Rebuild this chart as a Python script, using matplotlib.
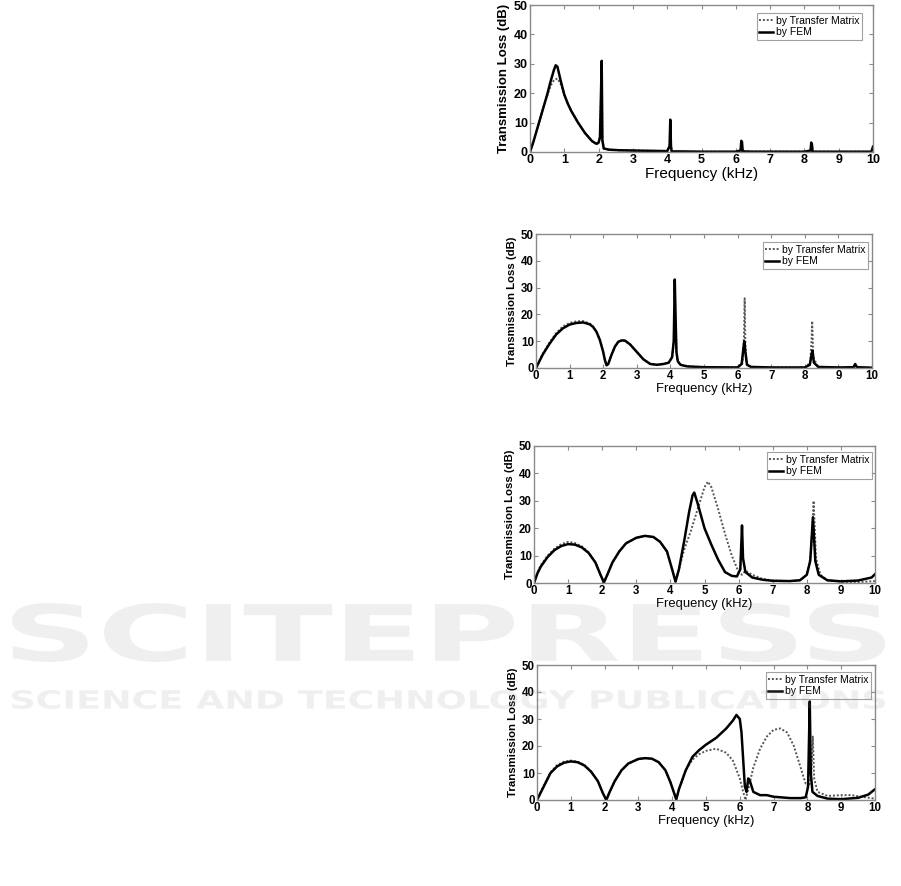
import numpy as np
import matplotlib
matplotlib.use("Agg")
import matplotlib.pyplot as plt
from matplotlib.textpath import TextPath
from matplotlib.font_manager import FontProperties
from matplotlib.patches import PathPatch
from matplotlib.transforms import Affine2D

plt.rcParams['font.family'] = ['Liberation Sans', 'DejaVu Sans']

# PANEL 1 DATA

f1_fem = [0, 0.1, 0.2, 0.3, 0.4, 0.5, 0.6, 0.7, 0.75, 0.8, 0.85, 0.9, 1.0, 1.1, 1.2, 1.4, 1.6, 1.8, 1.9, 1.95,
          2.0, 2.04, 2.07, 2.09, 2.11, 2.15, 2.3, 2.6, 3.0, 3.5, 4.0, 4.07, 4.09, 4.11, 4.13, 4.3, 5.0, 6.0,
          6.14, 6.16, 6.18, 6.2, 6.5, 7.0, 8.0, 8.18, 8.2, 8.22, 8.24, 9.0, 9.95, 9.98, 10.0]
tl1_fem = [0, 3.5, 7.5, 11.5, 15.5, 19.5, 24, 28, 29.5, 29, 26.5, 24, 19.5, 16.5, 14, 10, 6.5, 3.8, 3.0, 2.8,
           3.2, 5, 20, 31, 4, 1.2, 0.8, 0.6, 0.5, 0.4, 0.3, 2, 11, 2, 0.2, 0.2, 0.1, 0.1,
           0.5, 3.8, 3.5, 0.2, 0.1, 0.1, 0.1, 0.5, 3.2, 2.5, 0.1, 0.1, 0.1, 1.0, 1.8]
f1_tm = [0, 0.1, 0.2, 0.3, 0.4, 0.5, 0.6, 0.7, 0.8, 0.9, 1.0, 1.1, 1.2, 1.4, 1.6, 1.8, 1.9, 1.95,
         2.0, 2.04, 2.07, 2.09, 2.11, 2.15, 2.3, 2.6, 3.0, 4.0, 4.07, 4.09, 4.11, 4.13, 5.0, 6.0,
         6.14, 6.16, 6.18, 6.2, 8.0, 8.18, 8.2, 8.22, 8.24, 9.95, 10.0]
tl1_tm = [0, 3.5, 7.5, 11.5, 15.5, 19, 22.5, 24.5, 25, 23, 19.5, 16.5, 14, 10, 6.5, 3.8, 3.0, 2.8,
          3.2, 5, 18, 30, 4, 1.2, 0.8, 0.6, 0.5, 0.3, 2, 10.5, 2, 0.2, 0.1, 0.1,
          0.5, 3.5, 3.2, 0.2, 0.1, 0.5, 3.0, 2.3, 0.1, 0.1, 1.5]

# PANEL 2 DATA

f2_fem = [0, 0.1, 0.2, 0.4, 0.6, 0.8, 1.0, 1.2, 1.4, 1.6, 1.7, 1.8, 1.9, 2.0, 2.05, 2.1, 2.15, 2.25, 2.35, 2.45,
          2.55, 2.65, 2.8, 3.0, 3.2, 3.4, 3.6, 3.8, 3.95, 4.05, 4.1, 4.13, 4.15, 4.18, 4.22, 4.3, 4.5, 5.0, 6.0,
          6.12, 6.17, 6.2, 6.23, 6.28, 6.4, 7.0, 8.0, 8.15, 8.2, 8.23, 8.27, 8.4, 9.0, 9.45, 9.5, 9.55, 10.0]
tl2_fem = [0, 2.5, 5, 9, 12.5, 14.8, 16.2, 16.8, 17, 16.3, 15.3, 13.5, 10.5, 6, 3, 1, 1.5, 5, 8, 9.8,
           10.3, 10.2, 8.8, 6, 3.2, 1.5, 1.2, 1.5, 2, 4, 10, 33, 21, 6, 2.5, 1.2, 0.6, 0.3, 0.2,
           1.5, 7, 10, 6, 1.2, 0.4, 0.2, 0.2, 1.2, 5, 6.5, 2, 0.4, 0.2, 0.3, 1.5, 0.3, 0.1]
f2_tm = [0, 0.1, 0.2, 0.4, 0.6, 0.8, 1.0, 1.2, 1.4, 1.6, 1.7, 1.8, 1.9, 2.0, 2.05, 2.1, 2.15, 2.25, 2.35, 2.45,
         2.55, 2.65, 2.8, 3.0, 3.2, 3.4, 3.6, 3.8, 3.95, 4.05, 4.1, 4.13, 4.15, 4.18, 4.22, 4.3, 4.5, 5.0, 6.0,
         6.15, 6.19, 6.21, 6.23, 6.27, 6.4, 7.0, 8.0, 8.16, 8.2, 8.22, 8.25, 8.4, 9.0, 9.45, 9.5, 9.55, 10.0]
tl2_tm = [0, 2.7, 5.3, 9.5, 13, 15.5, 16.8, 17.4, 17.5, 16.6, 15.5, 13.5, 10.5, 6, 3, 1, 1.5, 5, 8, 9.8,
          10.3, 10.2, 8.8, 6, 3.2, 1.5, 1.2, 1.5, 2, 4, 10, 30, 20, 6, 2.5, 1.2, 0.6, 0.3, 0.2,
          2, 12, 26, 10, 1.5, 0.4, 0.2, 0.2, 2, 10, 17.5, 4, 0.4, 0.2, 0.3, 1.2, 0.3, 0.1]

# PANEL 3 DATA

f3_fem = [0, 0.1, 0.2, 0.4, 0.6, 0.8, 1.0, 1.2, 1.4, 1.6, 1.8, 1.95, 2.05, 2.15, 2.3, 2.5, 2.7, 3.0, 3.25, 3.5,
          3.7, 3.9, 4.05, 4.15, 4.25, 4.4, 4.55, 4.65, 4.7, 4.8, 5.0, 5.2, 5.4, 5.6, 5.8, 5.95, 6.05, 6.1,
          6.13, 6.2, 6.4, 6.7, 7.0, 7.5, 7.8, 8.0, 8.1, 8.18, 8.25, 8.35, 8.6, 9.0, 9.5, 9.9, 10.0]
tl3_fem = [0, 3.5, 6, 9.5, 12, 13.5, 14.2, 14, 13, 11, 7.5, 3, 0.2, 3, 7.5, 11.5, 14.5, 16.5, 17.2, 16.8,
           15, 11.5, 5, 0.5, 5, 15, 26, 32, 33, 29, 20, 14, 8.5, 4, 2.6, 2.4, 5, 21,
           9, 4, 2, 1.2, 0.8, 0.7, 1, 3, 8, 24, 8, 3, 1, 0.6, 0.9, 2, 3.2]
f3_tm = [0, 0.1, 0.2, 0.4, 0.6, 0.8, 1.0, 1.2, 1.4, 1.6, 1.8, 1.95, 2.05, 2.15, 2.3, 2.5, 2.7, 3.0, 3.25, 3.5,
         3.7, 3.9, 4.05, 4.15, 4.25, 4.4, 4.6, 4.8, 5.0, 5.1, 5.2, 5.4, 5.6, 5.8, 6.0, 6.1, 6.2, 6.4,
         6.7, 7.0, 7.5, 7.8, 8.0, 8.12, 8.2, 8.27, 8.4, 8.6, 9.0, 9.5, 10.0]
tl3_tm = [0, 3.8, 6.5, 10, 12.5, 14.2, 15, 14.6, 13.4, 11.2, 7.6, 3, 0.2, 3, 7.5, 11.5, 14.5, 16.5, 17.2, 16.8,
          15, 11.5, 5, 0.5, 5, 12, 19, 27, 35, 37, 35, 27, 18, 10, 4, 3, 4.5, 3,
          1.5, 0.9, 0.7, 1, 3, 10, 30, 9, 3, 1, 0.5, 0.3, 0.7]

# PANEL 4 DATA

f4_fem = [0, 0.1, 0.2, 0.4, 0.6, 0.8, 1.0, 1.2, 1.4, 1.6, 1.8, 1.95, 2.05, 2.15, 2.3, 2.5, 2.7, 3.0, 3.2, 3.4,
          3.6, 3.8, 3.95, 4.12, 4.2, 4.4, 4.6, 4.8, 5.0, 5.3, 5.6, 5.8, 5.9, 6.0, 6.05, 6.1, 6.15, 6.2, 6.25,
          6.3, 6.4, 6.6, 6.8, 7.0, 7.5, 7.8, 7.95, 8.02, 8.07, 8.1, 8.15, 8.3, 8.6, 9.0, 9.5, 9.8, 10.0]
tl4_fem = [0, 2.5, 5, 10, 12.5, 13.8, 14.3, 14, 12.8, 10.5, 7, 2.5, 0, 3, 7, 11, 13.5, 15.2, 15.5, 15.3,
           14, 11, 6.5, 0.2, 4, 11, 16, 18.5, 20.5, 23, 26.5, 29.5, 31.5, 30, 25, 15, 5, 3, 8,
           7, 3, 1.8, 1.8, 1.2, 0.7, 0.7, 1, 5, 36.5, 10, 3, 1.5, 0.5, 0.3, 0.8, 2, 4]
f4_tm = [0, 0.1, 0.2, 0.4, 0.6, 0.8, 1.0, 1.2, 1.4, 1.6, 1.8, 1.95, 2.05, 2.15, 2.3, 2.5, 2.7, 3.0, 3.2, 3.4,
         3.6, 3.8, 3.95, 4.12, 4.2, 4.4, 4.6, 4.8, 5.0, 5.3, 5.6, 5.8, 6.0, 6.1, 6.17, 6.25, 6.4, 6.6, 6.8,
         7.0, 7.2, 7.4, 7.6, 7.8, 7.95, 8.05, 8.12, 8.16, 8.2, 8.3, 8.6, 9.0, 9.3, 9.6, 10.0]
tl4_tm = [0, 2.7, 5.3, 10.3, 13, 14.2, 14.6, 14.2, 13, 10.6, 7, 2.5, 0, 3, 7, 11, 13.5, 15.2, 15.5, 15.3,
          14, 11, 6.5, 0.2, 4, 11, 15, 17, 18.2, 19, 17.5, 14.5, 8, 3, 0, 4, 12, 19, 23.5,
          26, 26.5, 25, 20, 12, 6, 5, 10, 23.5, 8, 3, 1.5, 1.8, 1.8, 1.2, 0.5]

panels = [
    (f1_tm, tl1_tm, f1_fem, tl1_fem),
    (f2_tm, tl2_tm, f2_fem, tl2_fem),
    (f3_tm, tl3_tm, f3_fem, tl3_fem),
    (f4_tm, tl4_tm, f4_fem, tl4_fem),
]

# axes boxes in pixels: left, top, right, bottom
W, H = 901, 886
boxes = [(530, 5, 873, 152), (536, 234, 872, 368), (534, 446, 875, 583), (537, 665, 875, 800)]
legend_top = [13, 242, 452, 672]
legend_right = [862, 868, 872, 871]

fig = plt.figure(figsize=(W / 100, H / 100), dpi=100)

for i, (box, data) in enumerate(zip(boxes, panels)):
    l, t, r, b = box
    ax = fig.add_axes([l / W, 1 - b / H, (r - l) / W, (b - t) / H])
    f_tm, tl_tm, f_fem, tl_fem = data

    ax.plot(f_tm, tl_tm, linestyle=(0, (1, 1)), color='#555555', linewidth=1.4,
            label='by Transfer Matrix')
    ax.plot(f_fem, tl_fem, color='black', linewidth=1.8, label='by FEM')

    ax.set_xlim(0, 10)
    ax.set_ylim(0, 50)
    ax.set_xticks(range(0, 11))
    ax.set_yticks(range(0, 51, 10))

    for s in ax.spines.values():
        s.set_color('#8a8a8a')
        s.set_linewidth(1.0)
    ax.tick_params(direction='in', length=3, color='#8a8a8a', top=True, right=True,
                   labelsize=9 if i == 0 else 8.3, pad=1.5)
    for lab in ax.get_xticklabels() + ax.get_yticklabels():
        lab.set_fontweight('bold')

    ax.set_xlabel('Frequency (kHz)', fontsize=11 if i == 0 else 9.4, labelpad=1)
    ax.set_ylabel('Transmission Loss (dB)', fontsize=9.5 if i == 0 else 8.2,
                  fontweight='bold', labelpad=3)

    ax_w = r - l
    ax_h = b - t
    leg = ax.legend(loc='upper right', fontsize=7.5, frameon=True, fancybox=False,
                    handlelength=1.3, handletextpad=0.3, labelspacing=0.15,
                    borderpad=0.25, borderaxespad=0,
                    bbox_to_anchor=((legend_right[i] - l) / ax_w, 1 - (legend_top[i] - t) / ax_h))
    leg.get_frame().set_edgecolor('#8a8a8a')
    leg.get_frame().set_linewidth(0.8)

# WATERMARK


def watermark(text, x0, y0, x1, y1):
    tp = TextPath((0, 0), text, size=1, prop=FontProperties(family='DejaVu Sans', weight='bold'))
    ext = tp.get_extents()
    sx = (x1 - x0) / W / ext.width
    sy = (y1 - y0) / H / ext.height
    tr = Affine2D().translate(-ext.x0, -ext.y0).scale(sx, sy).translate(x0 / W, 1 - y1 / H)
    patch = PathPatch(tr.transform_path(tp), facecolor='#9a9a9a', edgecolor='none',
                      alpha=0.15, transform=fig.transFigure, zorder=10)
    fig.add_artist(patch)


watermark('SCITEPRESS', 12, 603, 885, 662)
watermark('SCIENCE AND TECHNOLOGY PUBLICATIONS', 12, 690, 885, 709)

fig.savefig('out.png', dpi=100)
